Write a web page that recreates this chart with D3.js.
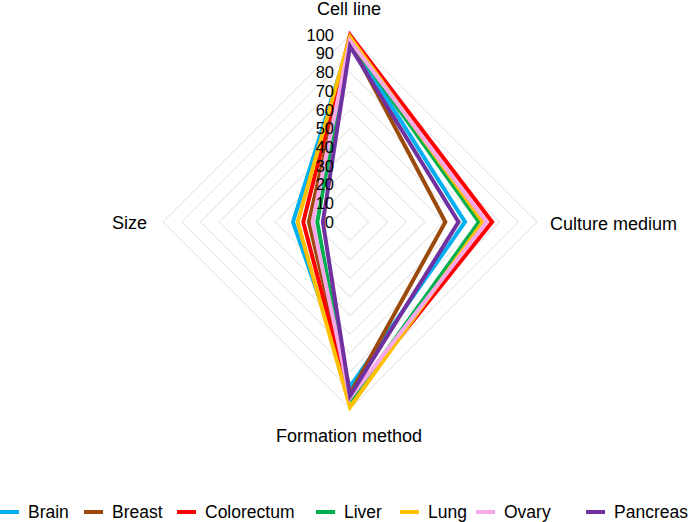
<!DOCTYPE html>
<html><head><meta charset="utf-8">
<script src="https://cdn.jsdelivr.net/npm/d3@7"></script>
<style>body{margin:0;background:#fff;} svg{display:block;font-family:"Liberation Sans",Arial,Helvetica,sans-serif;}</style>
</head><body>
<svg id="chart" width="689" height="522"></svg>
<script>
const axes = ["Cell line", "Culture medium", "Formation method", "Size"];
const seriesNames = ["Brain", "Breast", "Colorectum", "Liver", "Lung", "Ovary", "Pancreas"];
const colors = ["#00b0f0", "#9c4a0c", "#ff0000", "#00b050", "#ffc000", "#f7a8e8", "#7030a0"];
const brain = [97, 61.5, 88, 30.5];
const breast = [96, 51, 92, 22];
const colorectum = [100, 76, 95, 25];
const liver = [97, 69, 96, 17.5];
const lung = [99, 71, 99, 28];
const ovary = [97, 73, 94, 20];
const pancreas = [94, 58, 93, 14.5];
const tickValues = [0, 10, 20, 30, 40, 50, 60, 70, 80, 90, 100];
const allSeries = [brain, breast, colorectum, liver, lung, ovary, pancreas];

const svg = d3.select("#chart");
const cx = 350, cy = 222, R = 187;
const r = d3.scaleLinear().domain([0, 100]).range([0, R]);
const angle = i => -Math.PI / 2 + i * Math.PI / 2;
const pt = (i, v) => [cx + r(v) * Math.cos(angle(i)), cy + r(v) * Math.sin(angle(i))];

// grid diamonds
const gridG = svg.append("g");
tickValues.filter(t => t > 0).forEach(t => {
  gridG.append("polygon")
    .attr("points", axes.map((a, i) => pt(i, t).join(",")).join(" "))
    .attr("fill", "none").attr("stroke", "#dcdcdc").attr("stroke-width", 1);
});

// series
const line = d3.line().curve(d3.curveLinearClosed);
allSeries.forEach((s, k) => {
  svg.append("path")
    .attr("d", line(s.map((v, i) => pt(i, v))))
    .attr("fill", "none").attr("stroke", colors[k]).attr("stroke-width", 4)
    .attr("stroke-linejoin", "miter");
});

// tick labels (drawn over the series)
svg.append("g").selectAll("text").data(tickValues).join("text")
  .attr("x", cx - 16).attr("y", d => cy - r(d))
  .attr("dy", "0.35em").attr("text-anchor", "end")
  .attr("font-size", 16.5).attr("fill", "#000").text(d => d);

// axis labels
const lab = svg.append("g").attr("font-size", 18).attr("fill", "#000");
lab.append("text").attr("x", cx - 1).attr("y", 15).attr("text-anchor", "middle").text(axes[0]);
lab.append("text").attr("x", 550).attr("y", 230).attr("text-anchor", "start").text(axes[1]);
lab.append("text").attr("x", cx - 1).attr("y", 442).attr("text-anchor", "middle").text(axes[2]);
lab.append("text").attr("x", 147).attr("y", 229).attr("text-anchor", "end").text(axes[3]);

// legend
const legX = [0, 84, 177, 316, 400, 476, 586];
const leg = svg.append("g");
seriesNames.forEach((n, k) => {
  leg.append("line").attr("x1", legX[k]).attr("x2", legX[k] + 19)
    .attr("y1", 512).attr("y2", 512).attr("stroke", colors[k]).attr("stroke-width", 4);
  leg.append("text").attr("x", legX[k] + 28).attr("y", 518)
    .attr("font-size", 17.5).attr("fill", "#000").text(n);
});
</script>
</body></html>
